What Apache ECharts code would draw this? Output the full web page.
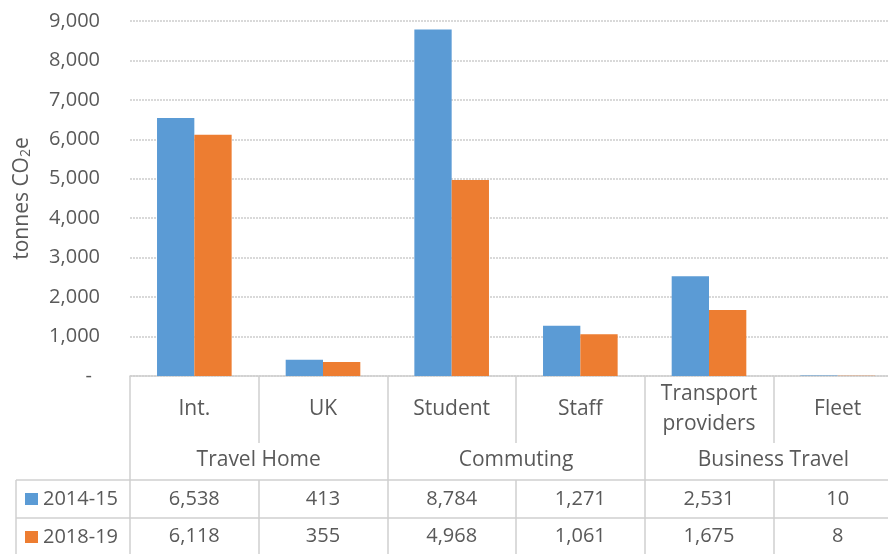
<!DOCTYPE html>
<html>
<head>
<meta charset="utf-8">
<script src="https://cdn.jsdelivr.net/npm/echarts@6/dist/echarts.min.js"></script>
<style>
  html, body { margin: 0; padding: 0; background: #fff; }
  #main { width: 888px; height: 554px; }
</style>
</head>
<body>
<div id="main"></div>
<script>
// data
var categories = ['Int.', 'UK', 'Student', 'Staff', 'Transport\nproviders', 'Fleet'];
var groups = ['Travel Home', 'Commuting', 'Business Travel'];
var years = ['2014-15', '2018-19'];
var values1415 = [6538, 413, 8784, 1271, 2531, 10];
var values1819 = [6118, 355, 4968, 1061, 1675, 8];
var yTicks = [0, 9000, 1000]; // min, max, interval

var textColor = '#595959';
var lineColor = '#d0d0d0';
var font = 'Open Sans';
var fs = 20;   // numbers
var fsText = 21; // words

function fmt(v) {
  return v.toLocaleString('en-US');
}

var chart = echarts.init(document.getElementById('main'));

// one category axis per table row, stacked under the plot with offset
function rowAxis(offset, len, labels) {
  return {
    type: 'category',
    gridIndex: 0,
    position: 'bottom',
    offset: offset,
    data: categories,
    axisLine: { show: true, lineStyle: { color: lineColor, width: 1.5 } },
    axisTick: { show: true, interval: 0, length: len, lineStyle: { color: lineColor, width: 1.5 } },
    axisLabel: {
      interval: 0,
      color: textColor,
      fontFamily: font,
      fontSize: fs,
      verticalAlign: 'middle',
      margin: Math.round(len / 2),
      formatter: function (v, i) { return fmt(labels[i]); }
    }
  };
}

chart.setOption({
  animation: false,
  color: ['#5B9BD5', '#ED7D31'],
  textStyle: { fontFamily: font },
  // the plot runs a little past the right edge of the picture (cropped)
  grid: { left: 130, right: -14, top: 21, bottom: 178, containLabel: false, outerBoundsMode: 'none' },
  legend: {
    data: years,
    orient: 'vertical',
    left: 25,
    top: 487,
    padding: 0,
    icon: 'rect',
    itemWidth: 13,
    itemHeight: 12,
    itemGap: 14,
    selectedMode: false,
    textStyle: { color: textColor, fontFamily: font, fontSize: fs, lineHeight: 24 }
  },
  xAxis: [
    {
      type: 'category',
      data: categories,
      axisLine: { show: true, lineStyle: { color: lineColor, width: 1.5 } },
      axisTick: { show: true, interval: 0, length: 67, lineStyle: { color: lineColor, width: 1.5 } },
      axisLabel: {
        interval: 0,
        color: textColor,
        fontFamily: font,
        fontSize: fsText,
        lineHeight: 30,
        verticalAlign: 'middle',
        margin: 33
      }
    },
    {
      type: 'category',
      position: 'bottom',
      offset: 67,
      data: groups,
      axisLine: { show: false },
      axisTick: { show: true, interval: 0, length: 37, lineStyle: { color: lineColor, width: 1.5 } },
      axisLabel: {
        interval: 0,
        color: textColor,
        fontFamily: font,
        fontSize: fsText,
        verticalAlign: 'middle',
        margin: 17
      }
    },
    rowAxis(104, 38, values1415),
    rowAxis(142, 36, values1819)
  ],
  yAxis: {
    type: 'value',
    min: yTicks[0],
    max: yTicks[1],
    interval: yTicks[2],
    name: 'tonnes CO{sub|2}e',
    nameLocation: 'middle',
    nameRotate: 90,
    nameGap: 97,
    nameTextStyle: {
      color: textColor,
      fontFamily: font,
      fontSize: fsText,
      rich: {
        sub: { fontSize: 14, verticalAlign: 'bottom', padding: [8, 0, 0, 0], color: textColor, fontFamily: font }
      }
    },
    axisLine: { show: false },
    axisTick: { show: false },
    axisLabel: {
      color: textColor,
      fontFamily: font,
      fontSize: fs,
      margin: 30,
      formatter: function (v) { return v === 0 ? '{dash|-}' : fmt(v); },
      rich: { dash: { padding: [0, 8, 0, 0], color: textColor, fontFamily: font, fontSize: fs } }
    },
    splitLine: { lineStyle: { color: '#d9d9d9', width: 2, type: [2, 1] } }
  },
  graphic: [
    // left cell of the data table (legend column)
    { type: 'line', shape: { x1: 16, y1: 480, x2: 130, y2: 480 }, style: { stroke: lineColor, lineWidth: 1.5 } },
    { type: 'line', shape: { x1: 16, y1: 518, x2: 130, y2: 518 }, style: { stroke: lineColor, lineWidth: 1.5 } },
    { type: 'line', shape: { x1: 16, y1: 480, x2: 16, y2: 554 }, style: { stroke: lineColor, lineWidth: 1.5 } }
  ],
  series: [
    {
      name: years[0],
      type: 'bar',
      data: values1415,
      barGap: '0%',
      barCategoryGap: '42%'
    },
    {
      name: years[1],
      type: 'bar',
      data: values1819,
      barGap: '0%',
      barCategoryGap: '42%'
    }
  ]
});
</script>
</body>
</html>
